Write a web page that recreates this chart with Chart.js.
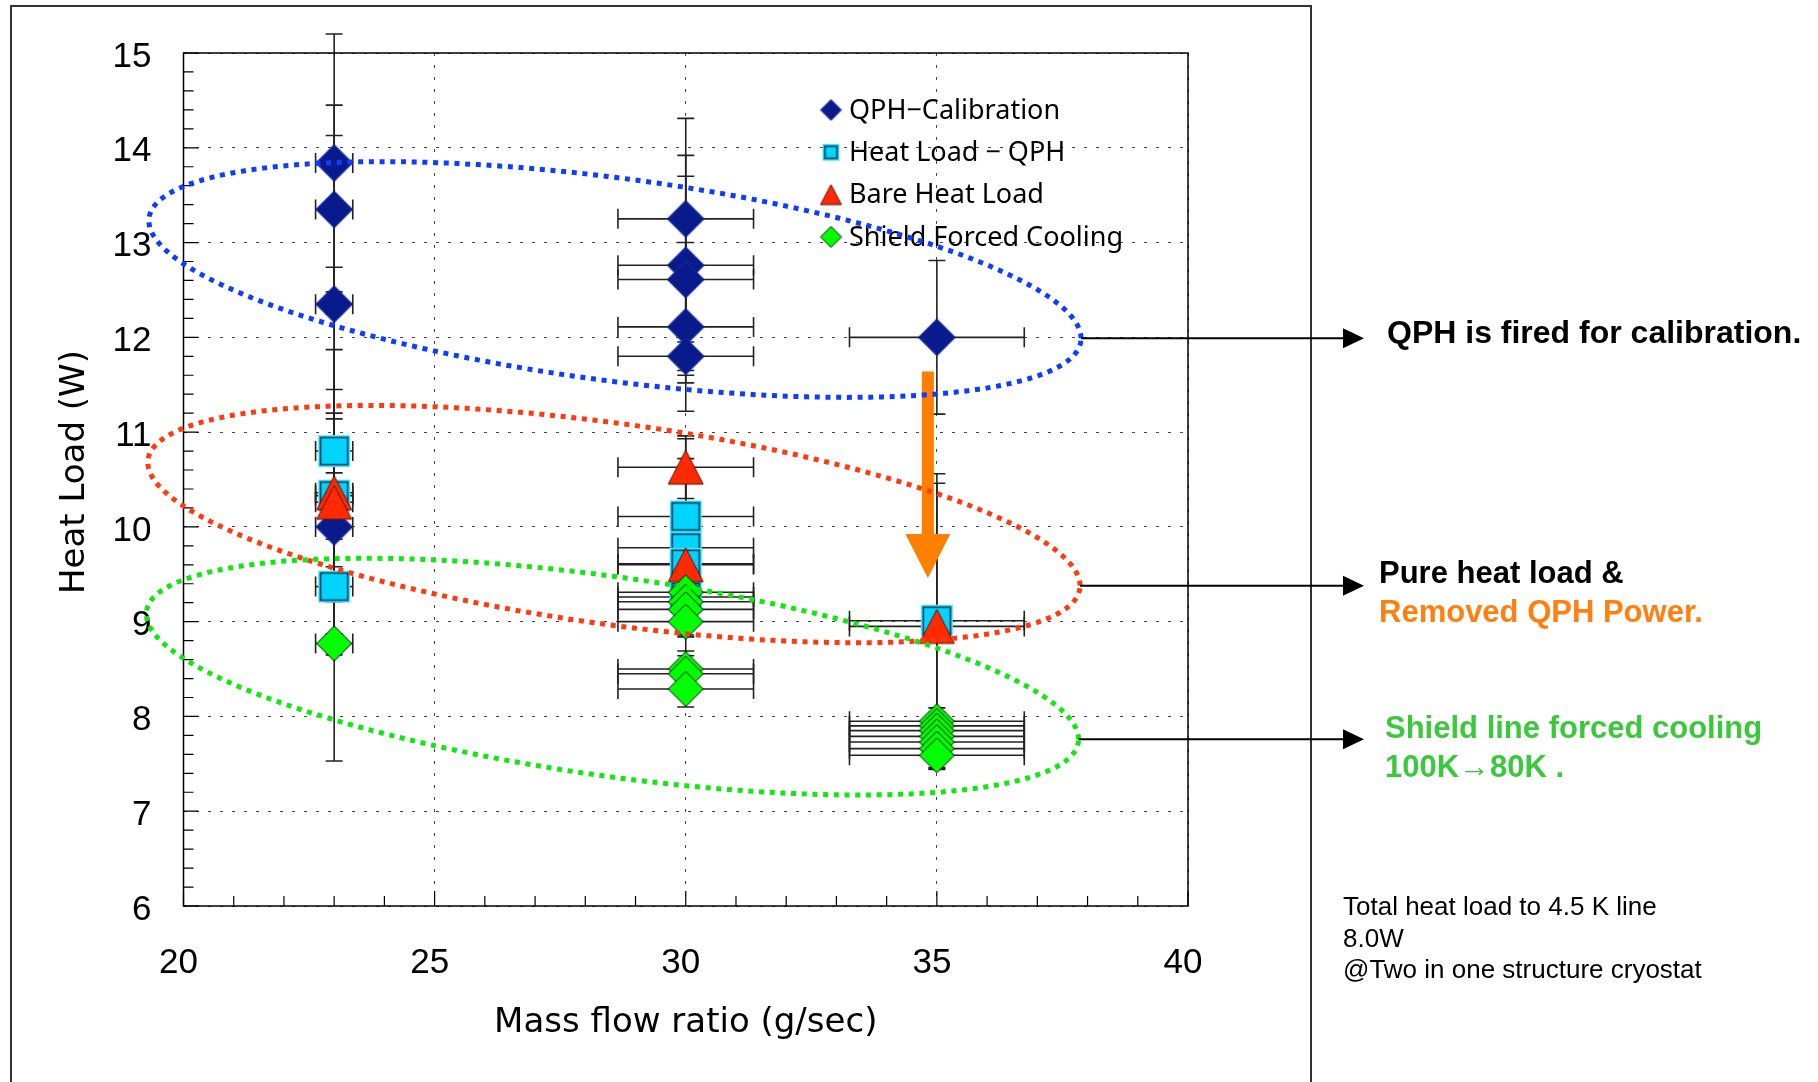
<!DOCTYPE html>
<html>
<head>
<meta charset="utf-8">
<script src="https://cdn.jsdelivr.net/npm/chart.js@4.4.1/dist/chart.umd.min.js"></script>
<style>
  html, body { margin: 0; padding: 0; background: #fff; }
  canvas { display: block; }
</style>
</head>
<body>
<canvas id="chart" width="1818" height="1082"></canvas>
<script>
// horizontal error for each mass flow group
const flowRates = [23, 30, 35]
const flowErr = [0.37, 1.35, 1.74]

// QPH-Calibration
const qphX = [23, 23, 23, 23, 30, 30, 30, 30, 30, 35]
const qphY = [13.84, 13.35, 12.35, 10.0, 13.25, 12.76, 12.61, 12.11, 11.80, 12.0]
const qphErr = [1.36, 1.10, 1.78, 1.20, 1.06, 1.16, 1.09, 0.89, 0.15, 0.81]

// Heat Load - QPH
const hlX = [23, 23, 23, 30, 30, 30, 30, 35]
const hlY = [10.80, 10.33, 9.37, 10.11, 9.78, 9.61, 9.26, 9.01]
const hlErr = [1.94, 1.12, 0.50, 0.82, 0.94, 0.50, 0.40, 1.55]

// Bare Heat Load
const bareX = [23, 23, 30, 30, 35]
const bareY = [10.36, 10.26, 10.63, 9.60, 8.95]
const bareErr = [0.78, 1.61, 0.33, 0.50, 1.51]

// Shield Forced Cooling
const shieldX = [23, 30, 30, 30, 30, 30, 30, 30, 35, 35, 35, 35, 35, 35, 35]
const shieldY = [8.77, 9.31, 9.21, 9.13, 9.00, 8.50, 8.45, 8.29, 7.95, 7.90, 7.85, 7.79, 7.73, 7.66, 7.59]
const shieldErr = [1.24, 0.19, 0.19, 0.19, 0.55, 0.19, 0.19, 0.19, 0.14, 0.14, 0.14, 0.14, 0.14, 0.14, 0.14]

const xTicks = [20, 25, 30, 35, 40]
const yTicks = [6, 7, 8, 9, 10, 11, 12, 13, 14, 15]

// annotation ellipses (data units): centre, right-hand end, half of the vertical chord through the centre
const ellipses = [
  { cx: 28.59, cy: 12.61, rx: 37.87, ry: 11.99, h: 1.078, color: '#0f3cff' },
  { cx: 28.57, cy: 10.03, rx: 37.85, ry: 9.38, h: 1.07, color: '#ff3a10' },
  { cx: 28.54, cy: 8.42, rx: 37.82, ry: 7.76, h: 1.06, color: '#10e810' }
]

function makeMarker(shape, w, h, fill, stroke) {
  const c = document.createElement('canvas')
  c.width = w + 4
  c.height = h + 4
  const g = c.getContext('2d')
  g.translate(2, 2)
  g.fillStyle = fill
  g.strokeStyle = stroke
  g.lineWidth = 1
  g.beginPath()
  if (shape === 'diamond') {
    g.moveTo(w / 2, 0); g.lineTo(w, h / 2); g.lineTo(w / 2, h); g.lineTo(0, h / 2); g.closePath()
    g.fill(); g.stroke()
  } else if (shape === 'triangle') {
    g.moveTo(w / 2, 0); g.lineTo(w, h); g.lineTo(0, h); g.closePath()
    g.fill(); g.stroke()
  } else {
    g.rect(0, 0, w, h)
    g.fill()
    g.strokeStyle = '#5fe6ff'
    g.strokeRect(0.5, 0.5, w - 1, h - 1)
    g.strokeStyle = stroke
    g.lineWidth = 1.5
    g.strokeRect(2.5, 2.5, w - 5, h - 5)
  }
  return c
}

const navy = '#071b8c', cyan = '#00d4ff', red = '#ff2a00', lime = '#00ff00'
const markers = {
  qph: makeMarker('diamond', 37, 37, navy, '#21319c'),
  hl: makeMarker('square', 32, 32, cyan, '#0b3a55'),
  bare: makeMarker('triangle', 35, 34, red, '#5a1000'),
  shield: makeMarker('diamond', 35, 35, lime, '#000')
}
const legendMarkers = {
  qph: makeMarker('diamond', 21, 21, navy, '#21319c'),
  hl: makeMarker('square', 17, 17, cyan, '#0b3a55'),
  bare: makeMarker('triangle', 21, 20, red, '#5a1000'),
  shield: makeMarker('diamond', 21, 21, lime, '#000')
}

function toPoints(xs, ys, errs) {
  return xs.map((x, i) => ({ x, y: ys[i], yErr: errs[i], xErr: flowErr[flowRates.indexOf(x)] }))
}

function dataset(label, xs, ys, errs, key, order) {
  return {
    label,
    data: toPoints(xs, ys, errs),
    pointStyle: markers[key],
    legendStyle: legendMarkers[key],
    pointRadius: 18,
    showLine: false,
    order
  }
}

const decor = {
  id: 'decor',
  beforeDraw(chart) {
    const ctx = chart.ctx
    ctx.save()
    ctx.fillStyle = '#fff'
    ctx.fillRect(0, 0, chart.width, chart.height)
    ctx.strokeStyle = '#333'
    ctx.lineWidth = 2
    ctx.strokeRect(11, 6, 1300, 1200)
    ctx.restore()
  },
  beforeDatasetsDraw(chart) {
    const ctx = chart.ctx, xs = chart.scales.x, ys = chart.scales.y
    ctx.save()
    ctx.strokeStyle = '#222'
    ctx.lineWidth = 1.6
    chart.data.datasets.forEach(ds => {
      ds.data.forEach(p => {
        const px = xs.getPixelForValue(p.x), py = ys.getPixelForValue(p.y)
        const x0 = xs.getPixelForValue(p.x - p.xErr), x1 = xs.getPixelForValue(p.x + p.xErr)
        const y0 = ys.getPixelForValue(p.y - p.yErr), y1 = ys.getPixelForValue(p.y + p.yErr)
        ctx.beginPath()
        ctx.moveTo(x0, py); ctx.lineTo(x1, py)
        ctx.moveTo(x0, py - 10); ctx.lineTo(x0, py + 10)
        ctx.moveTo(x1, py - 10); ctx.lineTo(x1, py + 10)
        ctx.moveTo(px, y0); ctx.lineTo(px, y1)
        ctx.moveTo(px - 8.5, y0); ctx.lineTo(px + 8.5, y0)
        ctx.moveTo(px - 8.5, y1); ctx.lineTo(px + 8.5, y1)
        ctx.stroke()
      })
    })
    ctx.restore()
  },
  afterDatasetsDraw(chart) {
    const ctx = chart.ctx, xs = chart.scales.x, ys = chart.scales.y
    const a = chart.chartArea
    ctx.save()

    // plot frame and inward ticks
    ctx.strokeStyle = '#000'
    ctx.lineWidth = 1.5
    ctx.strokeRect(a.left, a.top, a.right - a.left, a.bottom - a.top)
    ctx.lineWidth = 1.2
    ctx.beginPath()
    for (let i = 0; i <= 45; i++) {
      const y = ys.getPixelForValue(6 + i * 0.2)
      ctx.moveTo(a.left, y); ctx.lineTo(a.left + (i % 5 === 0 ? 15 : 10), y)
    }
    for (let i = 0; i <= 20; i++) {
      const x = xs.getPixelForValue(20 + i)
      ctx.moveTo(x, a.bottom); ctx.lineTo(x, a.bottom - (i % 5 === 0 ? 15 : 10))
    }
    ctx.stroke()

    // legend inside the plot
    ctx.font = '27px "Noto Sans", sans-serif'
    ctx.fillStyle = '#000'
    ctx.textBaseline = 'middle'
    ctx.textAlign = 'left'
    chart.data.datasets.forEach((ds, i) => {
      const y = 110 + i * 42.3
      const img = ds.legendStyle
      ctx.drawImage(img, 831 - img.width / 2, y - img.height / 2)
      ctx.fillText(ds.label, 849, y + 1)
    })

    // orange arrow: QPH power removed
    const ax = xs.getPixelForValue(34.82)
    const aTop = ys.getPixelForValue(11.64), aTip = ys.getPixelForValue(9.46)
    ctx.fillStyle = '#ff7f00'
    ctx.fillRect(ax - 6, aTop, 12, aTip - aTop - 44)
    ctx.beginPath()
    ctx.moveTo(ax - 22.5, aTip - 44); ctx.lineTo(ax + 22.5, aTip - 44); ctx.lineTo(ax, aTip); ctx.closePath()
    ctx.fill()

    // dotted ellipses
    ctx.lineWidth = 5
    ctx.setLineDash([5, 5.7])
    ellipses.forEach(e => {
      ctx.strokeStyle = e.color
      ctx.beginPath()
      for (let k = 0; k <= 400; k++) {
        const t = k / 400 * Math.PI * 2
        const dx = xs.getPixelForValue(e.cx + (e.rx - e.cx) * Math.cos(t))
        const dy = ys.getPixelForValue(e.cy + (e.ry - e.cy) * Math.cos(t) + e.h * Math.sin(t))
        if (k === 0) ctx.moveTo(dx, dy); else ctx.lineTo(dx, dy)
      }
      ctx.stroke()
    })
    ctx.setLineDash([])

    // callout arrows
    ctx.strokeStyle = '#000'
    ctx.fillStyle = '#000'
    ctx.lineWidth = 2
    ellipses.forEach(e => {
      const x0 = xs.getPixelForValue(e.rx), y0 = ys.getPixelForValue(e.ry)
      ctx.beginPath()
      ctx.moveTo(x0, y0); ctx.lineTo(1344, y0)
      ctx.stroke()
      ctx.beginPath()
      ctx.moveTo(1343, y0 - 10); ctx.lineTo(1364, y0); ctx.lineTo(1343, y0 + 10); ctx.closePath()
      ctx.fill()
    })

    // axis titles
    ctx.textBaseline = 'alphabetic'
    ctx.textAlign = 'center'
    ctx.font = '34px "DejaVu Sans", sans-serif'
    ctx.fillText('Mass flow ratio (g/sec)', (a.left + a.right) / 2, 1032)
    ctx.save()
    ctx.translate(84, 472)
    ctx.rotate(-Math.PI / 2)
    ctx.fillText('Heat Load (W)', 0, 0)
    ctx.restore()

    // callout texts
    ctx.textAlign = 'left'
    ctx.font = 'bold 32px "Liberation Sans", Arial, sans-serif'
    ctx.fillText('QPH is fired for calibration.', 1387, 343)
    ctx.font = 'bold 31px "Liberation Sans", Arial, sans-serif'
    ctx.fillText('Pure heat load &', 1379, 583)
    ctx.fillStyle = '#ff8010'
    ctx.fillText('Removed QPH Power.', 1379, 621.5)
    ctx.fillStyle = '#3cc83c'
    ctx.fillText('Shield line forced cooling', 1385, 738)
    ctx.fillText('100K\u219280K .', 1385, 776.5)

    ctx.fillStyle = '#000'
    ctx.font = '26px "Liberation Sans", Arial, sans-serif'
    ctx.fillText('Total heat load to 4.5 K line', 1343, 915)
    ctx.fillText('8.0W', 1343, 946.7)
    ctx.fillText('@Two in one structure cryostat', 1343, 978.3)
    ctx.restore()
  }
}

new Chart(document.getElementById('chart').getContext('2d'), {
  type: 'scatter',
  data: {
    datasets: [
      dataset('QPH\u2212Calibration', qphX, qphY, qphErr, 'qph', 3),
      dataset('Heat Load \u2212 QPH', hlX, hlY, hlErr, 'hl', 2),
      dataset('Bare Heat Load', bareX, bareY, bareErr, 'bare', 1),
      dataset('Shield Forced Cooling', shieldX, shieldY, shieldErr, 'shield', 0)
    ]
  },
  options: {
    responsive: false,
    animation: false,
    devicePixelRatio: 1,
    layout: { padding: { left: 0, top: 50, right: 630, bottom: 0 } },
    plugins: { legend: { display: false }, tooltip: { enabled: false } },
    scales: {
      x: {
        type: 'linear',
        min: 20,
        max: 40,
        afterBuildTicks(scale) { scale.ticks = xTicks.map(v => ({ value: v })) },
        afterFit(scale) { scale.height = 176 },
        grid: { color: '#444', lineWidth: 1, drawTicks: false },
        border: { display: false, dash: [3, 9] },
        ticks: {
          padding: 36,
          labelOffset: -5,
          color: '#000',
          font: { family: '"Liberation Sans", Arial, sans-serif', size: 35 }
        }
      },
      y: {
        type: 'linear',
        min: 6,
        max: 15,
        afterBuildTicks(scale) { scale.ticks = yTicks.map(v => ({ value: v })) },
        afterFit(scale) { scale.width = 183.5 },
        grid: { color: '#444', lineWidth: 1, drawTicks: false },
        border: { display: false, dash: [3, 9] },
        ticks: {
          padding: 32,
          labelOffset: 4,
          color: '#000',
          font: { family: '"Liberation Sans", Arial, sans-serif', size: 35 }
        }
      }
    }
  },
  plugins: [decor]
})
</script>
</body>
</html>
